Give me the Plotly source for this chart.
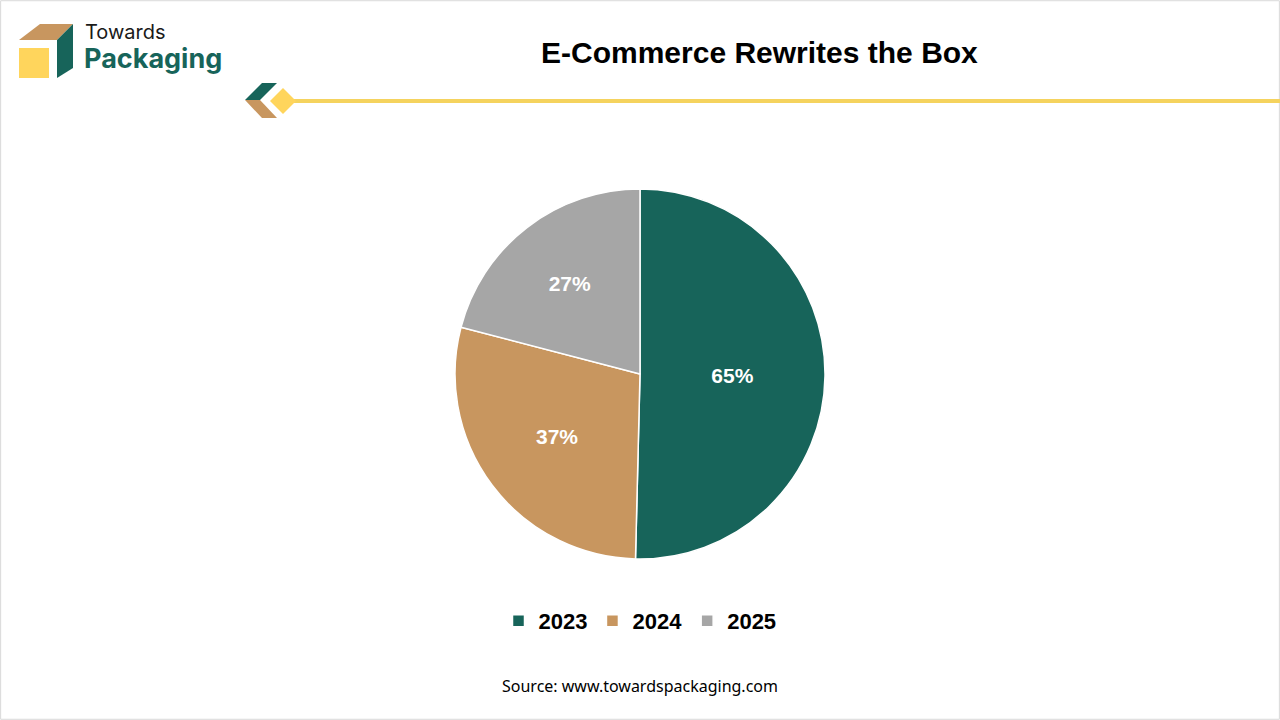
import plotly.graph_objects as go

years = ["2023", "2024", "2025"]
shares = [65, 37, 27]
colors = ["#17645A", "#C8965F", "#A6A6A6"]

W, H = 1280, 720

fig = go.Figure()
fig.add_trace(go.Pie(
    labels=years,
    values=shares,
    sort=False,
    direction="clockwise",
    rotation=0,
    marker=dict(colors=colors, line=dict(color="white", width=1.5)),
    texttemplate="%{value}%",
    textposition="inside",
    insidetextorientation="horizontal",
    textfont=dict(family="Liberation Sans", size=21, color="white", weight="bold"),
    hoverinfo="label+value",
    domain=dict(x=[455 / W, 825 / W], y=[1 - 560 / H, 1 - 188 / H]),
))


def px_x(v):
    return v / W


def px_y(v):
    return 1 - v / H


def poly(points, color):
    d = "M " + " L ".join(f"{px_x(x)},{px_y(y)}" for x, y in points) + " Z"
    return dict(type="path", xref="paper", yref="paper", path=d,
                fillcolor=color, line=dict(width=0), layer="above")


shapes = [
    # frame
    dict(type="rect", xref="paper", yref="paper", x0=0.0005, y0=0.001, x1=0.9995, y1=0.999,
         line=dict(color="#D9D9D9", width=1)),
    # logo cube
    poly([(19, 40), (40, 24), (73, 24), (57, 40)], "#C8965F"),
    poly([(57, 40), (73, 24), (73, 68), (57, 78)], "#17645A"),
    poly([(19, 48), (49, 48), (49, 78), (19, 78)], "#FFD55C"),
    # header line
    dict(type="line", xref="paper", yref="paper", x0=px_x(285), x1=1, y0=px_y(101), y1=px_y(101),
         line=dict(color="#F5D35E", width=4)),
    # header icon
    poly([(245, 100), (262, 83), (277, 83), (260, 100)], "#17645A"),
    poly([(245, 100), (260, 100), (277, 118), (262, 118)], "#C8965F"),
    poly([(283, 88), (296, 101), (283, 114), (270, 101)], "#FFD55C"),
]

annotations = [
    dict(text="Towards", x=px_x(83), y=px_y(32), xref="paper", yref="paper",
         xanchor="left", yanchor="middle", showarrow=False,
         font=dict(family="Inter", size=20, color="#1A1A1A")),
    dict(text="<b>Packaging</b>", x=px_x(82), y=px_y(58), xref="paper", yref="paper",
         xanchor="left", yanchor="middle", showarrow=False,
         font=dict(family="Inter", size=27, color="#17645A")),
    dict(text="<b>E-Commerce Rewrites the Box</b>", x=px_x(759), y=px_y(53), xref="paper", yref="paper",
         xanchor="center", yanchor="middle", showarrow=False,
         font=dict(family="Liberation Sans", size=30, color="black")),
    dict(text="Source: www.towardspackaging.com", x=px_x(640), y=px_y(686), xref="paper", yref="paper",
         xanchor="center", yanchor="middle", showarrow=False,
         font=dict(family="Noto Sans", size=16, color="black")),
]

fig.update_layout(
    width=W, height=H,
    margin=dict(l=0, r=0, t=0, b=0),
    paper_bgcolor="white",
    plot_bgcolor="white",
    showlegend=True,
    legend=dict(orientation="h", x=0.5, xanchor="center", y=px_y(621), yanchor="middle",
                font=dict(family="Liberation Sans", size=22, color="black", weight="bold"),
                itemwidth=30, traceorder="normal"),
    shapes=shapes,
    annotations=annotations,
)

fig.write_html("out.html", config={"displayModeBar": False},
               post_script="document.body.style.margin='0';")
